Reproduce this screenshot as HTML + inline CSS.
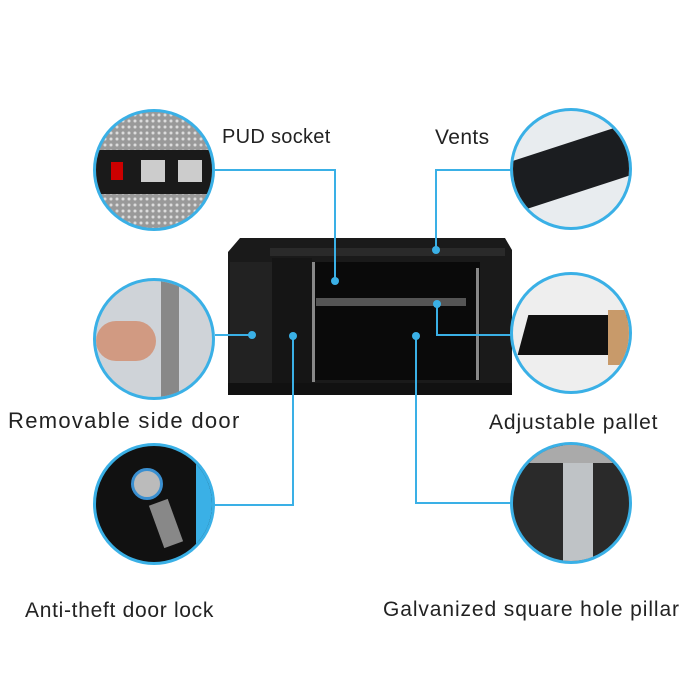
<!DOCTYPE html>
<html><head><style>
body{margin:0;width:700px;height:700px;background:#fff;position:relative;overflow:hidden;font-family:"Liberation Sans",sans-serif;}
.c{position:absolute;width:122px;height:122px;border-radius:50%;border:3px solid #3ab0e6;overflow:hidden;box-sizing:border-box;}
.t{position:absolute;color:#222;white-space:nowrap;}
</style></head><body>
<svg width="700" height="700" style="position:absolute;left:0;top:0">
<path d="M228 252 L240 238 L505 238 L512 250 L512 388 L500 395 L232 395 L228 388 Z" fill="#1a1a1a"/>
<rect x="230" y="262" width="42" height="125" fill="#222"/>
<rect x="272" y="258" width="40" height="130" fill="#151515"/>
<rect x="312" y="262" width="168" height="118" fill="#0a0a0a"/>
<rect x="316" y="298" width="150" height="8" fill="#555"/>
<rect x="312" y="262" width="3" height="120" fill="#888"/>
<rect x="476" y="268" width="3" height="112" fill="#888"/>
<rect x="270" y="248" width="235" height="8" fill="#2a2a2a"/>
<rect x="228" y="383" width="284" height="12" fill="#111"/>
<g stroke="#3ab0e6" stroke-width="2" fill="none">
<polyline points="215,170 335,170 335,281"/>
<polyline points="512,170 436,170 436,250"/>
<polyline points="215,335 252,335"/>
<polyline points="512,335 437,335 437,304"/>
<polyline points="215,505 293,505 293,336"/>
<polyline points="512,503 416,503 416,336"/>
</g>
<g fill="#3ab0e6">
<circle cx="335" cy="281" r="4"/><circle cx="436" cy="250" r="4"/>
<circle cx="252" cy="335" r="4"/><circle cx="437" cy="304" r="4"/>
<circle cx="293" cy="336" r="4"/><circle cx="416" cy="336" r="4"/>
</g>
</svg>
<div class="c" style="left:93px;top:109px;background:radial-gradient(circle,#ddd 1px,#999 2px) 0 0/6px 6px;">
<div style="position:absolute;left:0;top:38px;width:130px;height:44px;background:#1a1a1a"></div>
<div style="position:absolute;left:15px;top:50px;width:12px;height:18px;background:#c00"></div>
<div style="position:absolute;left:45px;top:48px;width:24px;height:22px;background:#ccc"></div>
<div style="position:absolute;left:82px;top:48px;width:24px;height:22px;background:#ccc"></div>
</div>
<div class="c" style="left:510px;top:108px;background:#e8ecef;">
<div style="position:absolute;left:-10px;top:30px;width:150px;height:50px;background:#1b1d20;transform:rotate(-18deg)"></div>
</div>
<div class="c" style="left:93px;top:278px;background:#cfd3d8;">
<div style="position:absolute;left:0;top:40px;width:60px;height:40px;border-radius:20px;background:#d19a82"></div>
<div style="position:absolute;left:65px;top:0;width:18px;height:130px;background:#888"></div>
</div>
<div class="c" style="left:510px;top:272px;background:#eee;">
<div style="position:absolute;left:10px;top:40px;width:100px;height:40px;background:#111;transform:skewX(-15deg)"></div>
<div style="position:absolute;left:95px;top:35px;width:30px;height:55px;background:#c89a6a"></div>
</div>
<div class="c" style="left:93px;top:443px;background:#111;">
<div style="position:absolute;left:100px;top:0;width:20px;height:130px;background:#3ab0e6"></div>
<div style="position:absolute;left:35px;top:22px;width:26px;height:26px;border-radius:50%;background:#bbb;border:3px solid #3a8fd0"></div>
<div style="position:absolute;left:60px;top:55px;width:20px;height:45px;background:#888;transform:rotate(-20deg)"></div>
</div>
<div class="c" style="left:510px;top:442px;background:#2a2a2a;">
<div style="position:absolute;left:50px;top:0;width:30px;height:130px;background:#bfc3c6"></div>
<div style="position:absolute;left:0;top:0;width:130px;height:18px;background:#aaa"></div>
</div>
<div class="t" style="left:222px;top:126px;font-size:20px;letter-spacing:0.3px">PUD socket</div>
<div class="t" style="left:435px;top:126px;font-size:21px;letter-spacing:0.4px">Vents</div>
<div class="t" style="left:8px;top:408px;font-size:22px;letter-spacing:1.3px">Removable side door</div>
<div class="t" style="left:489px;top:411px;font-size:21px;letter-spacing:0.9px">Adjustable pallet</div>
<div class="t" style="left:25px;top:599px;font-size:21px;letter-spacing:0.7px">Anti-theft door lock</div>
<div class="t" style="left:383px;top:598px;font-size:21px;letter-spacing:0.9px">Galvanized square hole pillar</div>
</body></html>
